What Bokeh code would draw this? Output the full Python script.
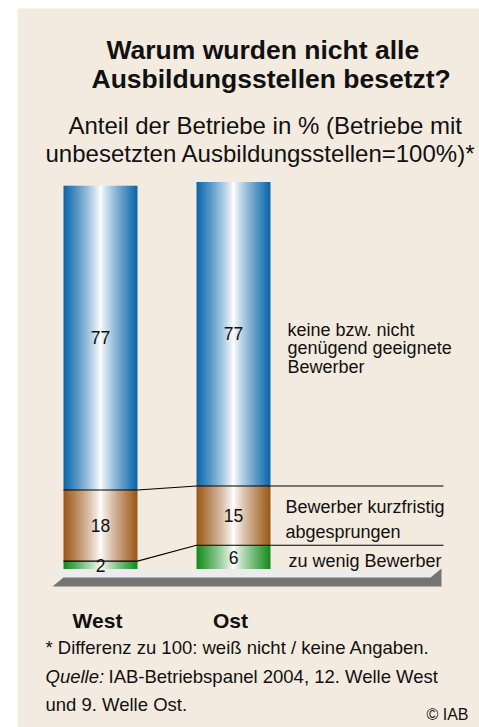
from bokeh.plotting import figure
from bokeh.models import Range1d, ColumnDataSource
from bokeh.core.properties import value
from bokeh.embed import file_html
from bokeh.resources import INLINE

# ---------------- data ----------------
categories = ["West", "Ost"]
keine_geeignete = [77, 77]        # keine bzw. nicht genügend geeignete Bewerber
kurzfristig_abgesprungen = [18, 15]  # Bewerber kurzfristig abgesprungen
zu_wenig = [2, 6]                 # zu wenig Bewerber
series_labels = [
    ["keine bzw. nicht", "genügend geeignete", "Bewerber"],
    ["Bewerber kurzfristig", "abgesprungen"],
    ["zu wenig Bewerber"],
]
title_lines = ["Warum wurden nicht alle", "Ausbildungsstellen besetzt?"]
subtitle_lines = ["Anteil der Betriebe in % (Betriebe mit",
                  "unbesetzten Ausbildungsstellen=100%)*"]
footnote = "* Differenz zu 100: weiß nicht / keine Angaben."
source_label = "Quelle:"
source_text = "IAB-Betriebspanel 2004, 12. Welle West"
source_text2 = "und 9. Welle Ost."
copyright_text = "© IAB"

# ---------------- layout helpers ----------------
BEIGE = "#f3ebdf"
FONT = value("Liberation Sans")
BASE_PX = 568.5        # page pixel row of the value 0
PX_PER_UNIT = 3.95     # pixels per percentage point


def Y(px):
    return (BASE_PX - px) / PX_PER_UNIT


bar_centers = {"West": 100, "Ost": 233}
BAR_W = 74

p = figure(width=479, height=727, output_backend="svg", toolbar_location=None,
           x_range=Range1d(17, 479), y_range=Range1d(Y(727), Y(8)),
           x_axis_location=None, y_axis_location=None, title=None,
           min_border_left=17, min_border_right=0, min_border_top=8,
           min_border_bottom=0, background_fill_color=BEIGE,
           border_fill_color="white", outline_line_color=None)
p.grid.visible = False

# ---------------- floor ----------------
floor_light = ([52, 441, 441, 52], [569, 569, 577, 577])
floor_dark = ([52, 63, 430, 441, 441], [586, 577, 577, 568, 586])
p.patch(floor_light[0], [Y(v) for v in floor_light[1]], fill_color="#ececec", line_color=None)
p.patch(floor_dark[0], [Y(v) for v in floor_dark[1]], fill_color="#747474", line_color=None)

# ---------------- gradient bars ----------------
edge_colors = [(19, 138, 25), (154, 86, 22), (8, 100, 170)]  # green, brown, blue
K = 37


def mix(c, f):
    r = int(round(255 + (c[0] - 255) * f))
    g = int(round(255 + (c[1] - 255) * f))
    b = int(round(255 + (c[2] - 255) * f))
    return "#%02x%02x%02x" % (r, g, b)


src = dict(left=[], right=[], bottom=[], top=[], color=[])
for ci, cat in enumerate(categories):
    vals = [zu_wenig[ci], kurzfristig_abgesprungen[ci], keine_geeignete[ci]]
    bottom = 0
    x0 = bar_centers[cat] - BAR_W / 2
    w = BAR_W / K
    for si, v in enumerate(vals):
        top = bottom + v
        for i in range(K):
            t = abs((i + 0.5) / K - 0.5) * 2
            f = t ** 0.85
            src["left"].append(x0 + i * w)
            src["right"].append(x0 + (i + 1) * w + (0.6 if i < K - 1 else 0))
            src["bottom"].append(bottom)
            src["top"].append(top)
            src["color"].append(mix(edge_colors[si], f))
        bottom = top
p.quad(left="left", right="right", bottom="bottom", top="top",
       fill_color="color", line_color=None, source=ColumnDataSource(src))

# ---------------- connector lines ----------------
xw0 = bar_centers["West"] - BAR_W / 2
xw1 = bar_centers["West"] + BAR_W / 2
xo0 = bar_centers["Ost"] - BAR_W / 2
LINE_END = 443
lower_series = [zu_wenig, kurzfristig_abgesprungen]
for level in (1, 2):
    cw = sum(s[0] for s in lower_series[:level])
    co = sum(s[1] for s in lower_series[:level])
    p.line([xw0, xw1, xo0, LINE_END], [cw, cw, co, co], line_color="black", line_width=1.1)

# ---------------- value labels ----------------
vx, vy, vt = [], [], []
for ci, cat in enumerate(categories):
    vals = [zu_wenig[ci], kurzfristig_abgesprungen[ci], keine_geeignete[ci]]
    bottom = 0
    for v in vals:
        vx.append(bar_centers[cat])
        vy.append(bottom + v / 2)
        vt.append(str(v))
        bottom += v
p.text(x=vx, y=vy, text=vt, text_font=FONT, text_font_size="17.5px",
       text_color="#111111", text_align="center", text_baseline="middle")

# ---------------- series labels ----------------
lab_pos = [(287, [329, 347.5, 366]), (285, [506.7, 531.7]), (288, [560.7])]
for lines, (lx, lys) in zip(series_labels, lab_pos):
    p.text(x=[lx] * len(lines), y=[Y(v) for v in lys], text=lines, text_font=FONT,
           text_font_size="18px", text_color="#111111", text_baseline="alphabetic")

# ---------------- title / subtitle ----------------
p.text(x=[106, 91], y=[Y(49.5), Y(78.5)], text=title_lines, text_font=FONT,
       text_font_size="26.5px", text_font_style="bold", text_color="#111111",
       text_baseline="alphabetic")
p.text(x=[68, 45], y=[Y(125), Y(152.7)], text=subtitle_lines, text_font=FONT,
       text_font_size="24px", text_color="#111111", text_baseline="alphabetic")

# ---------------- category labels ----------------
p.text(x=[bar_centers[c] - 3 for c in categories], y=[Y(620)] * 2, text=categories,
       text_font=FONT, text_font_size="21px", text_font_style="bold",
       text_color="#111111", text_align="center", text_baseline="alphabetic")

# ---------------- footer ----------------
p.text(x=[45, 45], y=[Y(646.5), Y(703.5)], text=[footnote, source_text2], text_font=FONT,
       text_font_size="18.5px", text_color="#111111", text_baseline="alphabetic")
p.text(x=[45], y=[Y(675.5)], text=[source_label], text_font=FONT,
       text_font_size="18.5px", text_font_style="italic", text_color="#111111",
       text_baseline="alphabetic")
p.text(x=[108], y=[Y(675.5)], text=[source_text], text_font=FONT,
       text_font_size="18.5px", text_color="#111111", text_baseline="alphabetic")
p.text(x=[468], y=[Y(714)], text=[copyright_text], text_font=FONT,
       text_font_size="16px", text_color="#111111", text_align="right",
       text_baseline="alphabetic")

open("out.html", "w").write(file_html(p, INLINE))
